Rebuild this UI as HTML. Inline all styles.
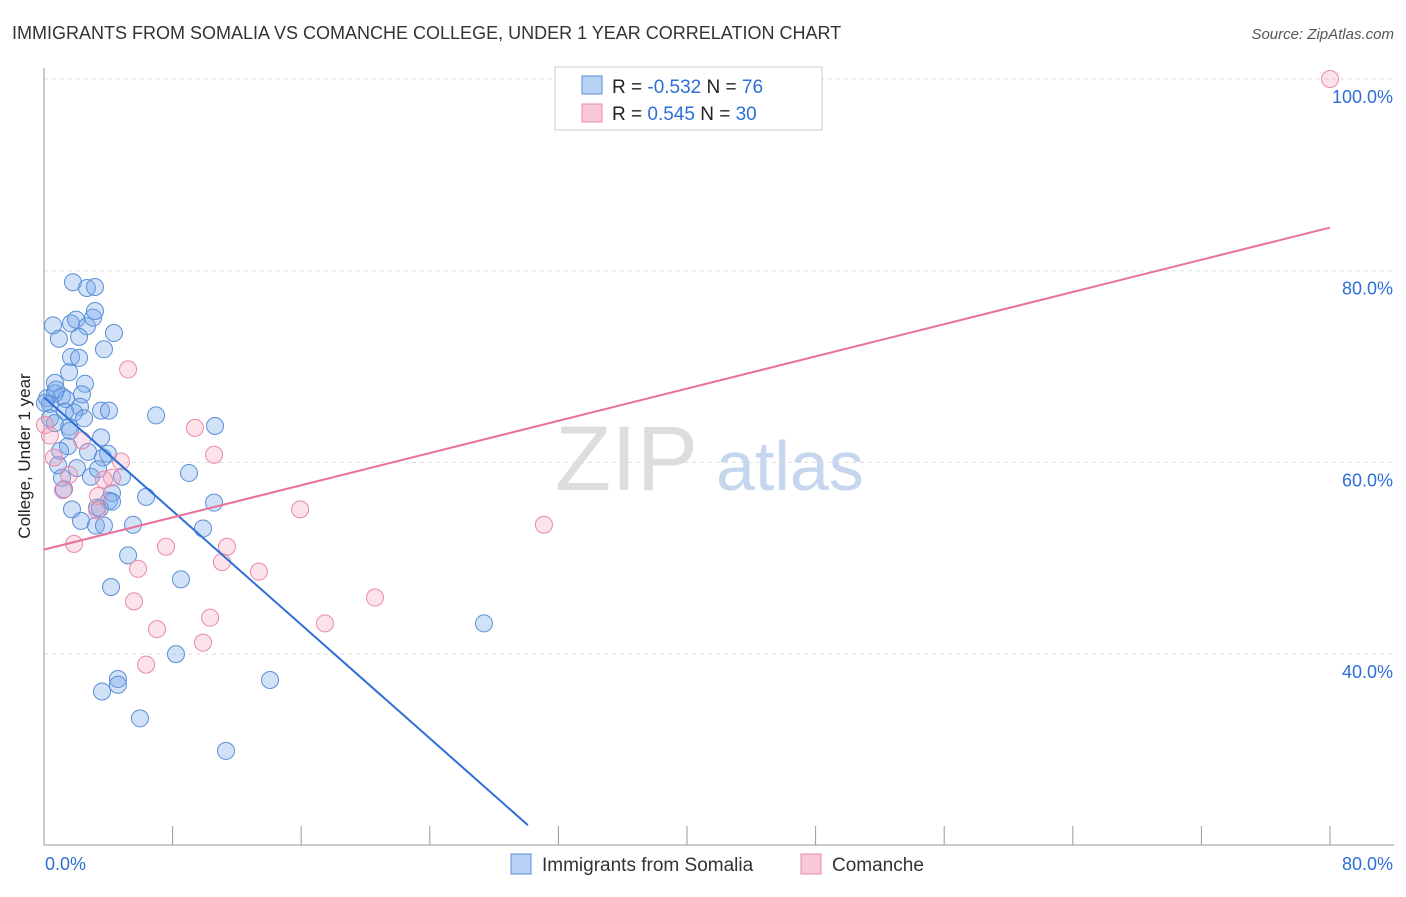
<!DOCTYPE html>
<html><head><meta charset="utf-8"><style>
body{margin:0;background:#fff;font-family:"Liberation Sans",sans-serif;}
svg text{font-family:"Liberation Sans",sans-serif;}
</style></head><body>
<svg id="c" width="1406" height="892">
<text x="12" y="39" font-size="18" fill="#333">IMMIGRANTS FROM SOMALIA VS COMANCHE COLLEGE, UNDER 1 YEAR CORRELATION CHART</text>
<text x="1394" y="39" font-size="15" fill="#555" text-anchor="end" font-style="italic">Source: ZipAtlas.com</text>
<text x="30" y="456" font-size="17" fill="#222" text-anchor="middle" transform="rotate(-90 30 456)">College, Under 1 year</text>
<text x="555" y="490" font-size="92" fill="#ddd" font-family="Liberation Serif">ZIP</text>
<text x="716" y="490" font-size="70" fill="#c5d6ee">atlas</text>
<g id="grid"></g><g id="axes"></g><g id="pts"></g><g id="lines"></g>
<g>
<rect x="555" y="67" width="267" height="63" fill="#fff" stroke="#ccc"/>
<rect x="582" y="76" width="20" height="18" fill="#b8d3f5" stroke="#5b8fd6"/>
<rect x="582" y="104" width="20" height="18" fill="#f8c8d8" stroke="#e88aa8"/>
<text x="612" y="93" font-size="19" fill="#222">R = <tspan fill="#2d6fd6">-0.532</tspan>   N = <tspan fill="#2d6fd6">76</tspan></text>
<text x="612" y="120" font-size="19" fill="#222">R =  <tspan fill="#2d6fd6">0.545</tspan>   N = <tspan fill="#2d6fd6">30</tspan></text>
</g>
<g>
<rect x="511" y="854" width="20" height="20" fill="#b8d3f5" stroke="#5b8fd6"/>
<text x="542" y="871" font-size="19" fill="#333">Immigrants from Somalia</text>
<rect x="801" y="854" width="20" height="20" fill="#f8c8d8" stroke="#e88aa8"/>
<text x="832" y="871" font-size="19" fill="#333">Comanche</text>
</g>
</svg>
<script>
const blueX=[1.80,2.67,3.17,0.56,1.68,1.99,2.67,3.05,3.17,0.93,2.18,4.35,3.73,1.68,2.18,1.56,0.68,2.55,0.68,1.12,0.19,0.37,1.37,2.36,2.24,1.31,1.87,3.55,4.04,0.37,0.68,2.49,1.56,6.97,10.64,3.55,1.49,2.74,1.0,3.98,3.67,2.05,9.02,1.12,2.92,4.85,4.23,6.35,10.58,4.04,3.30,1.74,2.30,3.23,3.73,5.54,9.89,5.23,8.52,4.17,27.37,8.21,4.60,4.60,3.61,14.06,5.97,11.32,1.24,3.48,0.87,3.36,1.62,4.23,0.06,0.75];
const blueY=[78.8,78.2,78.3,74.3,74.5,74.9,74.2,75.1,75.8,72.9,73.1,73.5,71.8,71.0,70.9,69.4,68.3,68.2,67.2,66.9,66.7,66.1,66.6,67.1,65.8,65.3,65.2,65.4,65.4,64.6,64.1,64.6,63.7,64.9,63.8,62.6,61.7,61.1,61.2,60.9,60.5,59.4,58.9,58.4,58.5,58.5,56.8,56.4,55.8,56.0,55.3,55.1,53.9,53.4,53.4,53.5,53.1,50.3,47.8,47.0,43.2,40.0,37.4,36.8,36.1,37.3,33.3,29.9,57.2,55.2,59.7,59.3,63.3,55.9,66.2,67.6];
const pinkX=[80,5.23,9.39,10.58,0.62,2.36,4.79,4.23,3.73,1.18,1.56,3.36,3.30,15.93,31.1,1.87,7.59,11.38,11.07,5.85,13.37,20.59,5.60,10.33,17.48,7.03,9.89,6.35,0.06,0.37];
const pinkY=[100,69.7,63.6,60.8,60.5,62.3,60.1,58.4,58.2,57.1,58.7,56.5,55.0,55.1,53.5,51.5,51.2,51.2,49.6,48.9,48.6,45.9,45.5,43.8,43.2,42.6,41.2,38.9,63.9,62.8];
const blueTrend=[66.8,-1.483]; // intercept, slope
const blueTrendEnd=30.1;
const pinkTrend=[50.9,0.42];
const yTicks=[100,80,60,40];
const yTickLabels=["100.0%","80.0%","60.0%","40.0%"];
const xTicks=[0,8,16,24,32,40,48,56,64,72,80];
const NS="http://www.w3.org/2000/svg";
const X=v=>44+v*16.075, Y=v=>79+(100-v)*9.585;
function mk(t,a,p){const e=document.createElementNS(NS,t);for(const k in a)e.setAttribute(k,a[k]);document.getElementById(p).appendChild(e);return e;}
yTicks.forEach((t,i)=>{
 const l=mk('line',{x1:44,x2:1394,y1:Y(t),y2:Y(t),stroke:'#ddd','stroke-dasharray':'4,4'},'grid');
 
 
 const tx=mk('text',{x:1393,y:Y(t)+24,'font-size':18,fill:'#2d6fd6','text-anchor':'end'},'axes');
 tx.textContent=yTickLabels[i];
 
 
});
const ax=mk('line',{x1:44,x2:44,y1:68,y2:845,stroke:'#999'},'axes');


const bx=mk('line',{x1:44,x2:1394,y1:845,y2:845,stroke:'#999'},'axes');


xTicks.forEach(t=>{
 const l=mk('line',{x1:X(t),x2:X(t),y1:826,y2:845,stroke:'#999'},'axes');
 
 
});
[[0,'0.0%','start',45],[80,'80.0%','end',1393]].forEach(([v,s,a,px])=>{
 const t=mk('text',{x:px,y:870,'font-size':18,fill:'#2d6fd6','text-anchor':a},'axes');
 t.textContent=s;
 
 
});
blueX.forEach((v,i)=>{
 const c=mk('circle',{cx:X(v),cy:Y(blueY[i]),r:8.5,fill:'rgba(120,170,235,0.35)',stroke:'#5b8fd6','stroke-width':1},'pts');
 
 
});
pinkX.forEach((v,i)=>{
 const c=mk('circle',{cx:X(v),cy:Y(pinkY[i]),r:8.5,fill:'rgba(245,160,190,0.3)',stroke:'#e88aa8','stroke-width':1},'pts');
 
 
});
const bl=mk('line',{x1:X(0),y1:Y(blueTrend[0]),x2:X(blueTrendEnd),y2:Y(blueTrend[0]+blueTrend[1]*blueTrendEnd),stroke:'#2d6fd6','stroke-width':2},'lines');


const pl=mk('line',{x1:X(0),y1:Y(pinkTrend[0]),x2:X(80),y2:Y(pinkTrend[0]+pinkTrend[1]*80),stroke:'#e8709a','stroke-width':2},'lines');


</script>
</body></html>
